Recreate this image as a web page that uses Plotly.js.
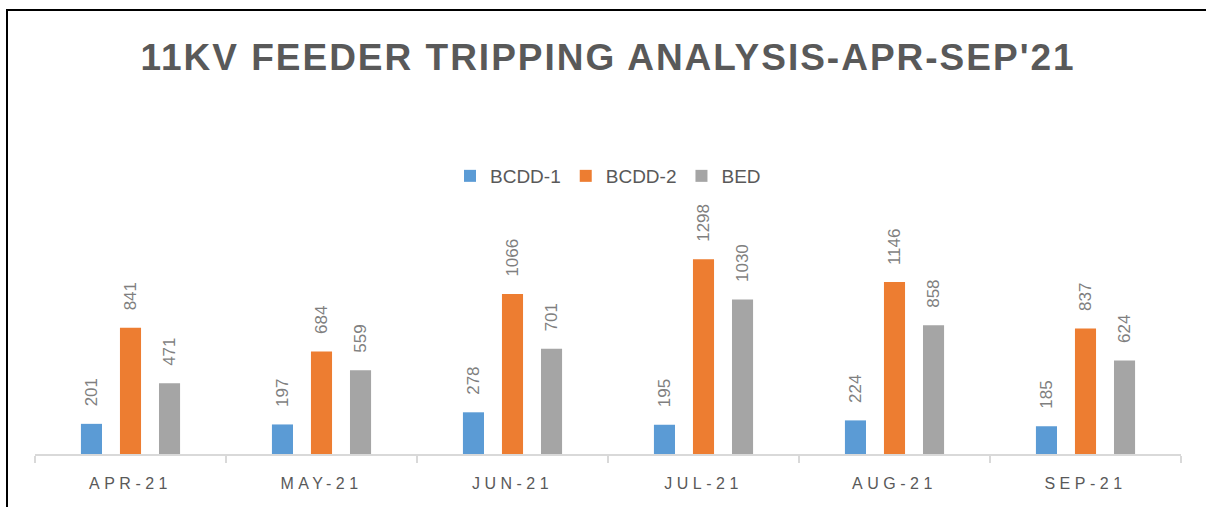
<!DOCTYPE html>
<html>
<head>
<meta charset="utf-8">
<script src="https://cdn.plot.ly/plotly-3.0.1.min.js"></script>
<style>
html,body{margin:0;padding:0;background:#fff;overflow:hidden;}
#wrap{position:relative;width:1206px;height:507px;overflow:hidden;}
#frame{position:absolute;left:6px;top:9px;width:1300px;height:600px;border-top:2px solid #000;border-left:2px solid #000;pointer-events:none;}
#chart{width:1206px;height:507px;}
#chart .xtick text{letter-spacing:4.5px;}
#chart .gtitle{letter-spacing:2px;}
</style>
</head>
<body>
<div id="wrap"><div id="chart"></div><div id="frame"></div></div>
<script>
const months = ["APR-21","MAY-21","JUN-21","JUL-21","AUG-21","SEP-21"];
const seriesNames = ["BCDD-1","BCDD-2","BED"];
const bcdd1 = [201,197,278,195,224,185];
const bcdd2 = [841,684,1066,1298,1146,837];
const bed = [471,559,701,1030,858,624];
const colors = ["#5b9bd5","#ed7d31","#a5a5a5"];
const allSeries = [bcdd1,bcdd2,bed];

const traces = allSeries.map((vals,i)=>({
  type:'bar', name:seriesNames[i], x:months, y:vals,
  marker:{color:colors[i]}, hoverinfo:'x+y+name'
}));

const shifts = [-39,0,39];
const annotations = [];
allSeries.forEach((vals,i)=>{
  vals.forEach((v,j)=>{
    annotations.push({
      x:months[j], y:v, xref:'x', yref:'y', text:String(v),
      showarrow:false, textangle:-90, xanchor:'center', yanchor:'bottom',
      xshift:shifts[i], yshift:15,
      font:{family:'Liberation Sans, Arial, sans-serif', size:17, color:'#7f7f7f'}
    });
  });
});

const L=35, R=1181, T=244, B=454;
const py = v => (B-v)/(B-T);

const layout = {
  width:1206, height:507,
  margin:{l:L, r:1206-R, t:T, b:507-B, pad:0},
  paper_bgcolor:'#fff', plot_bgcolor:'#fff',
  title:{text:"11KV FEEDER TRIPPING ANALYSIS-APR-SEP'21", x:0.5, xref:'paper', xanchor:'center', y:1-57/507, yanchor:'middle',
    font:{family:'Liberation Sans, Arial, sans-serif', size:37, color:'#595959', weight:'bold'}},
  barmode:'group', bargap:0.387, bargroupgap:0.46,
  showlegend:true,
  legend:{orientation:'h', x:0.5, xanchor:'center', xref:'paper', y:py(176), yanchor:'middle',
    font:{family:'Liberation Sans, Arial, sans-serif', size:19, color:'#595959'}, itemwidth:30, traceorder:'normal'},
  xaxis:{type:'category', showline:true, linecolor:'#d9d9d9', linewidth:2, ticks:'outside', tickson:'boundaries',
    ticklen:7, tickcolor:'#d9d9d9', tickwidth:2, showgrid:false, zeroline:false, ticklabelstandoff:14,
    tickfont:{family:'Liberation Sans, Arial, sans-serif', size:16, color:'#595959'}},
  yaxis:{range:[0,1400], visible:false, showgrid:false, zeroline:false},
  annotations:annotations
};

Plotly.newPlot('chart', traces, layout, {displayModeBar:false, staticPlot:true});
</script>
</body>
</html>
